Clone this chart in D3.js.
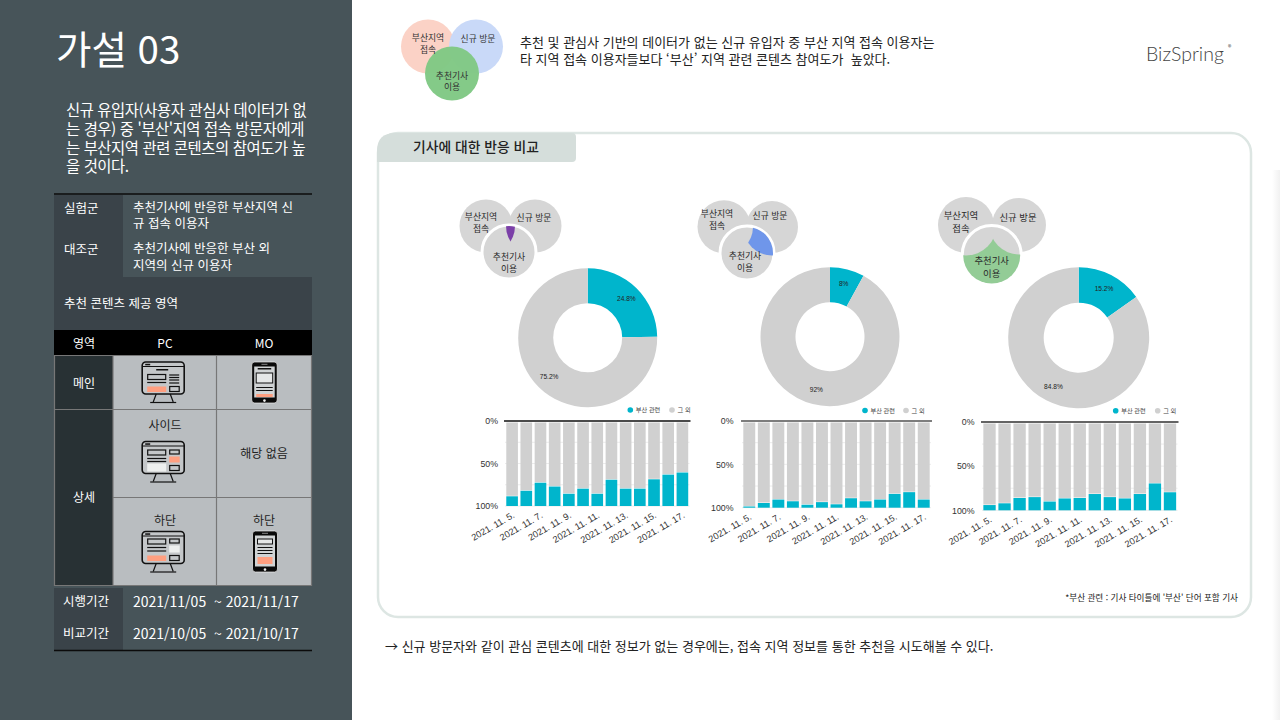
<!DOCTYPE html>
<html lang="ko">
<head>
<meta charset="UTF-8">
<title>가설 03</title>
<script src="https://cdnjs.cloudflare.com/ajax/libs/d3/7.8.5/d3.min.js"></script>
<style>
    html, body { margin: 0; padding: 0; background: #fff; overflow: hidden; }
    svg { display: block; }
    text { font-family: "Noto Sans CJK KR", "Noto Sans", sans-serif; white-space: pre; }
    .axis text { font-family: "Liberation Sans", sans-serif; }
</style>
</head>
<body>
<div id="chart"></div>
<script>
// chart data
const dates = ["2021. 11. 5.", "2021. 11. 6.", "2021. 11. 7.", "2021. 11. 8.", "2021. 11. 9.", "2021. 11. 10.", "2021. 11. 11.",
    "2021. 11. 12.", "2021. 11. 13.", "2021. 11. 14.", "2021. 11. 15.", "2021. 11. 16.", "2021. 11. 17."];
const shownDates = ["2021. 11. 5.", "2021. 11. 7.", "2021. 11. 9.", "2021. 11. 11.", "2021. 11. 13.", "2021. 11. 15.", "2021. 11. 17."];
const yTicks = [0, 50, 100];
const yGrid = [0, 25, 50, 75, 100];
const busanDaily1 = [12, 18.5, 28, 23.5, 15, 21, 15, 31.5, 21, 21, 32, 37.5, 40];
const busanDaily2 = [2, 6, 10, 8, 4, 7, 4.5, 11.5, 8, 10, 16.5, 18.5, 10];
const busanDaily3 = [6.5, 8.5, 14.5, 15.5, 10.5, 14, 14.5, 19, 15.5, 14, 19, 31, 21];
const donutShare1 = [24.8, 75.2];
const donutShare2 = [8, 92];
const donutShare3 = [15.2, 84.8];
const legendNames = ["부산 관련", "그 외"];

// texts
const titleText = "가설 03";
const hypothesisLines = ["신규 유입자(사용자 관심사 데이터가 없", "는 경우) 중 '부산'지역 접속 방문자에게", "는 부산지역 관련 콘텐츠의 참여도가 높", "을 것이다."];
const introLines = ["추천 및 관심사 기반의 데이터가 없는 신규 유입자 중 부산 지역 접속 이용자는", "타 지역 접속 이용자들보다 ‘부산’ 지역 관련 콘텐츠 참여도가  높았다."];
const conclusion = "→ 신규 방문자와 같이 관심 콘텐츠에 대한 정보가 없는 경우에는, 접속 지역 정보를 통한 추천을 시도해볼 수 있다.";
const footnote = "*부산 관련 : 기사 타이틀에 '부산' 단어 포함 기사";

const teal = "#00b5cc", grey = "#d0d0d0", orange = "#ff9f80";

const width = 1280, height = 720;
const svg = d3.select("#chart").append("svg").attr("width", width).attr("height", height);
const defs = svg.append("defs");

function label(parent, x, y, str, size, fill, anchor, weight) {
    return parent.append("text")
        .attr("x", x).attr("y", y)
        .attr("dy", "0.4em")
        .attr("text-anchor", anchor || "start")
        .attr("font-size", size)
        .attr("font-weight", weight || 400)
        .attr("fill", fill)
        .text(str);
}
function box(parent, x, y, w, h, fill) {
    return parent.append("rect").attr("x", x).attr("y", y).attr("width", w).attr("height", h).attr("fill", fill);
}

// left panel
const left = svg.append("g");
box(left, 0, 0, 352, height, "#475459");
label(left, 56, 49, titleText, 38.5, "#fff");
hypothesisLines.forEach((t, i) => label(left, 66, 110 + i * 18.7, t, 15.4, "#fff").attr("letter-spacing", -0.42));

box(left, 54, 195, 69, 82, "#3a4349");
box(left, 54, 277, 258, 53, "#3a4349");
left.append("line").attr("x1", 54).attr("x2", 312).attr("y1", 194).attr("y2", 194).attr("stroke", "#0b0b0b").attr("stroke-width", 1.5);
label(left, 64, 207.5, "실험군", 12.5, "#fff");
label(left, 64, 249, "대조군", 12.5, "#fff");
label(left, 133, 207, "추천기사에 반응한 부산지역 신", 12.5, "#fff");
label(left, 133, 223, "규 접속 이용자", 12.5, "#fff");
label(left, 133, 248, "추천기사에 반응한 부산 외", 12.5, "#fff");
label(left, 133, 265, "지역의 신규 이용자", 12.5, "#fff");
label(left, 64, 303, "추천 콘텐츠 제공 영역", 12.5, "#fff");

box(left, 54, 330, 258, 25, "#000");
label(left, 84, 343, "영역", 12, "#fff", "middle");
label(left, 165, 343, "PC", 12, "#fff", "middle");
label(left, 264, 343, "MO", 12, "#fff", "middle");

box(left, 54, 355, 258, 231, "#b9bdc0");
box(left, 54, 355, 59, 231, "#283134");
[355.5, 409.5, 585.5].forEach(y => left.append("line").attr("x1", 54).attr("x2", 312).attr("y1", y).attr("y2", y).attr("stroke", "#777").attr("stroke-width", 1.2));
left.append("line").attr("x1", 113).attr("x2", 312).attr("y1", 497.5).attr("y2", 497.5).attr("stroke", "#777").attr("stroke-width", 1.2);
[54.5, 113, 216.5, 311.5].forEach(x => left.append("line").attr("x1", x).attr("x2", x).attr("y1", 355).attr("y2", 586).attr("stroke", "#777").attr("stroke-width", 1.2));
label(left, 84, 383, "메인", 12, "#fff", "middle");
label(left, 84, 497, "상세", 12, "#fff", "middle");
label(left, 165, 425, "사이드", 12, "#222", "middle");
label(left, 264, 453, "해당 없음", 12, "#222", "middle");
label(left, 165, 520, "하단", 12, "#222", "middle");
label(left, 264, 520, "하단", 12, "#222", "middle");

box(left, 54, 588, 69, 62, "#3a4349");
label(left, 86, 601, "시행기간", 12.5, "#fff", "middle");
label(left, 86, 633, "비교기간", 12.5, "#fff", "middle");
label(left, 133, 601, "2021/11/05  ~ 2021/11/17", 14, "#fff");
label(left, 133, 633, "2021/10/05  ~ 2021/10/17", 14, "#fff");
left.append("line").attr("x1", 54).attr("x2", 312).attr("y1", 650.5).attr("y2", 650.5).attr("stroke", "#0b0b0b").attr("stroke-width", 1.5);

// little layout icons
function monitor(x, y, kind) {
    const g = left.append("g").attr("transform", `translate(${x},${y})`);
    const ink = "#111";
    const line = (x1, x2, y1, y2) => g.append("line").attr("x1", x1).attr("x2", x2).attr("y1", y1).attr("y2", y2).attr("stroke", ink).attr("stroke-width", 1.2);
    const frame = (x0, y0, w, h) => g.append("rect").attr("x", x0).attr("y", y0).attr("width", w).attr("height", h).attr("fill", "none").attr("stroke", ink).attr("stroke-width", 1.2);
    g.append("rect").attr("width", 42).attr("height", 32).attr("rx", 3.5).attr("fill", "#c4c7c9").attr("stroke", ink).attr("stroke-width", 1.6);
    line(0, 42, 4.5, 4.5);
    box(g, 3, 1.8, 5, 1.5, ink);
    line(14, 11, 32, 40);
    line(28, 31, 32, 40);
    line(8, 34, 40.5, 40.5);
    if (kind === "main") {
        box(g, 14, 7, 12, 1.5, ink);
        frame(5.5, 12.5, 18, 5);
        line(5, 24, 20.5, 20.5);
        box(g, 5, 24.5, 19, 5.5, orange);
        [13, 15.5, 18, 21].forEach(v => line(27, 37, v, v));
        frame(27.5, 24.5, 9.5, 5);
    } else if (kind === "side") {
        frame(5.5, 8.5, 18, 5);
        frame(27.5, 8.5, 9.5, 4);
        box(g, 27, 15, 10.5, 6, orange);
        line(5, 24, 17, 17); line(5, 24, 20, 20);
        box(g, 5, 22, 19, 8, "#edefee");
        frame(27.5, 24, 9.5, 5);
    } else {
        frame(5.5, 7.5, 18, 5);
        frame(27.5, 7.5, 9.5, 4);
        line(5, 24, 16, 16); line(5, 24, 19.5, 19.5);
        box(g, 27, 14, 10.5, 7, "#edefee");
        box(g, 5, 24, 19, 5.5, orange);
        frame(27.5, 24, 9.5, 5);
    }
}
function phone(x, y, w, h, kind) {
    const g = left.append("g").attr("transform", `translate(${x},${y})`);
    g.append("rect").attr("width", w).attr("height", h).attr("rx", 3).attr("fill", "#0a0a0a").attr("stroke", "#eee").attr("stroke-width", 0.7);
    box(g, 2.5, 4.5, w - 5, h - 10, "#d0d3d4");
    box(g, w / 2 - 3, 1.8, 6, 1, "#888");
    g.append("circle").attr("cx", w / 2).attr("cy", h - 2.4).attr("r", 1.3).attr("fill", "#eee");
    const dark = "#111";
    if (kind === "main") {
        box(g, 6, 6, w - 12, 1.5, dark);
        g.append("rect").attr("x", 4.5).attr("y", 11).attr("width", w - 9).attr("height", 10).attr("fill", "#e5e7e7").attr("stroke", dark);
        box(g, 4.5, 25, w - 9, 1, dark); box(g, 4.5, 28, w - 9, 1, dark);
        box(g, 4.5, 32, w - 9, 3, orange);
    } else {
        g.append("rect").attr("x", 5).attr("y", 8).attr("width", w - 10).attr("height", 5).attr("fill", "#e5e7e7").attr("stroke", dark);
        box(g, 5, 16, w - 10, 1, dark); box(g, 5, 19, w - 10, 1, dark); box(g, 5, 22, w - 10, 1, dark);
        box(g, 5, 26, w - 10, 7, orange);
    }
}
monitor(142.2, 362, "main");
monitor(142.2, 441.5, "side");
monitor(142.2, 531.5, "bottom");
phone(251.7, 362, 25.5, 41, "main");
phone(252.5, 531, 25, 41, "bottom");

// header of right side
const topVenn = svg.append("g");
topVenn.append("circle").attr("cx", 428).attr("cy", 46.5).attr("r", 27).attr("fill", "#fbd2c6");
topVenn.append("circle").attr("cx", 476).attr("cy", 46.5).attr("r", 27).attr("fill", "#c9d9f8");
topVenn.append("circle").attr("cx", 452).attr("cy", 73.5).attr("r", 27).attr("fill", "#80c884").attr("fill-opacity", 0.97);
label(topVenn, 428, 37, "부산지역", 8.8, "#333", "middle");
label(topVenn, 428, 49, "접속", 8.8, "#333", "middle");
label(topVenn, 478, 38, "신규 방문", 8.8, "#333", "middle");
label(topVenn, 452, 75, "추천기사", 8.8, "#333", "middle");
label(topVenn, 452, 86, "이용", 8.8, "#333", "middle");
introLines.forEach((t, i) => label(svg, 520, 42 + i * 16.5, t, 13, "#222"));
label(svg, 1146, 53.5, "BizSpring", 19.5, "#444", "start", 300).style("font-family", "Lato, sans-serif");
label(svg, 1228, 47, "®", 7, "#444");

// card
svg.append("rect").attr("x", 378).attr("y", 133).attr("width", 873).attr("height", 484).attr("rx", 20)
    .attr("fill", "#fff").attr("stroke", "#dde6e3").attr("stroke-width", 2.5);
svg.append("path").attr("fill", "#d5dedb")
    .attr("d", "M377,151 Q377,133 395,133 L572,133 Q576,133 576,137 L576,158 Q576,162 572,162 L377,162 Z");
label(svg, 476, 146.5, "기사에 대한 반응 비교", 13.8, "#222", "middle", 500);
label(svg, 1238, 598, footnote, 8.6, "#222", "end");
label(svg, 385, 646, conclusion, 13, "#222");

// right edge shade
const shade = defs.append("linearGradient").attr("id", "edge");
shade.append("stop").attr("offset", 0).attr("stop-color", "#fff");
shade.append("stop").attr("offset", 1).attr("stop-color", "#f1f1f1");
box(svg, 1272, 170, 8, 550, "url(#edge)");

// one panel per comparison
const panels = [
    {
        id: "a", share: donutShare1, daily: busanDaily1, axisColor: "#111",
        donut: [587.7, 337.7, 69.5, 34.5],
        legend: [630.3, 672, 410],
        xRange: [505, 689.5], yRange: [421, 506], tickX: 498,
        venn: { left: [486, 226, 26.5], right: [535, 226, 26.5], bottom: [509, 252, 27] },
        region: { inside: ["left", "right", "bottom"], outside: [], fill: "#7b3fa8" },
        vennText: [[481, 216.5, "부산지역"], [481, 228, "접속"], [534, 217.5, "신규 방문"], [509, 256, "추천기사"], [509, 268, "이용"]], vennSize: 8.8
    },
    {
        id: "b", share: donutShare2, daily: busanDaily2, axisColor: "#555",
        donut: [830, 336.7, 69.5, 34.5],
        legend: [865, 906, 410.5],
        xRange: [742, 931], yRange: [421, 507.7], tickX: 733.5,
        venn: { left: [724, 226.7, 26.5], right: [772, 227, 26], bottom: [747, 253, 27] },
        region: { inside: ["right", "bottom"], outside: ["left"], fill: "#6f96ea" },
        vennText: [[717, 213.5, "부산지역"], [717, 225.5, "접속"], [770, 215, "신규 방문"], [745, 255, "추천기사"], [745, 267, "이용"]], vennSize: 8.8
    },
    {
        id: "c", share: donutShare3, daily: busanDaily3, axisColor: "#333",
        donut: [1078.7, 337.7, 70.5, 35],
        legend: [1115.7, 1157.7, 410.7],
        xRange: [982, 1177.5], yRange: [422, 510.3], tickX: 974.5,
        venn: { left: [966, 225, 28], right: [1019, 225, 27], bottom: [991.7, 255, 29.5] },
        region: { inside: ["bottom"], outside: ["left", "right"], fill: "#93cc96" },
        vennText: [[961, 215, "부산지역"], [961, 228, "접속"], [1018, 217, "신규 방문"], [991.7, 260, "추천기사"], [991.7, 273, "이용"]], vennSize: 9.4
    }
];

function drawVenn(p) {
    const g = svg.append("g");
    ["left", "right", "bottom"].forEach(k => {
        const [cx, cy, r] = p.venn[k];
        g.append("circle").attr("cx", cx).attr("cy", cy).attr("r", r).attr("fill", "#d6d6d6")
            .attr("stroke", k === "bottom" ? "#fff" : "none").attr("stroke-width", 3);
    });
    // region is cut out of the hidden, slightly larger circles
    const hidden = k => p.venn[k][2] + (k === "bottom" ? 0 : 2.5);
    let host = g;
    p.region.inside.forEach(k => {
        const id = `clip-${p.id}-${k}`;
        defs.append("clipPath").attr("id", id).append("circle")
            .attr("cx", p.venn[k][0]).attr("cy", p.venn[k][1]).attr("r", k === "bottom" ? hidden(k) - 1 : hidden(k));
        host = host.append("g").attr("clip-path", `url(#${id})`);
    });
    const mask = defs.append("mask").attr("id", `mask-${p.id}`).attr("maskUnits", "userSpaceOnUse")
        .attr("x", 0).attr("y", 0).attr("width", width).attr("height", height);
    box(mask, 0, 0, width, height, "#fff");
    p.region.outside.forEach(k => mask.append("circle").attr("cx", p.venn[k][0]).attr("cy", p.venn[k][1]).attr("r", hidden(k)).attr("fill", "#000"));
    const [bx, by] = p.venn.bottom;
    box(host, bx - 60, by - 60, 120, 120, p.region.fill).attr("mask", `url(#mask-${p.id})`);
    p.vennText.forEach(([x, y, t]) => label(g, x, y, t, p.vennSize, "#2a2a2a", "middle"));
}

function drawDonut(p) {
    const [cx, cy, outer, inner] = p.donut;
    const g = svg.append("g").attr("transform", `translate(${cx},${cy})`);
    const pie = d3.pie().sort(null)(p.share);
    const arc = d3.arc().innerRadius(inner).outerRadius(outer);
    const labelArc = d3.arc().innerRadius(55).outerRadius(55);
    g.selectAll("path").data(pie).join("path").attr("d", arc).attr("fill", (d, i) => i === 0 ? teal : grey);
    g.selectAll("text").data(pie).join("text")
        .attr("transform", d => `translate(${labelArc.centroid(d)})`)
        .attr("dy", "0.35em").attr("text-anchor", "middle")
        .attr("font-size", 6.6).attr("fill", "#222")
        .style("font-family", "Liberation Sans, sans-serif")
        .text(d => d.data + "%");

    const [x1, x2, y] = p.legend;
    svg.append("circle").attr("cx", x1).attr("cy", y).attr("r", 2.8).attr("fill", teal);
    svg.append("circle").attr("cx", x2).attr("cy", y).attr("r", 2.8).attr("fill", grey);
    label(svg, x1 + 5.5, y, legendNames[0], 6.2, "#444");
    label(svg, x2 + 5.5, y, legendNames[1], 6.2, "#444");
}

function drawBars(p) {
    const x = d3.scaleBand().domain(dates).range(p.xRange).paddingInner(0.18).paddingOuter(0.09);
    const y = d3.scaleLinear().domain([0, 100]).range(p.yRange);
    const g = svg.append("g");

    g.selectAll(".grid").data(yGrid).join("line").attr("class", "grid")
        .attr("x1", p.xRange[0]).attr("x2", p.xRange[1])
        .attr("y1", d => y(d)).attr("y2", d => y(d))
        .attr("stroke", "#ececec");

    // stacked from the top: the other share first, the busan share at the bottom
    const rows = dates.map((d, i) => ({ date: d, other: 100 - p.daily[i], busan: p.daily[i] }));
    const stack = d3.stack().keys(["other", "busan"])(rows);
    g.selectAll(".layer").data(stack).join("g").attr("class", "layer")
        .attr("fill", d => d.key === "busan" ? teal : grey)
        .selectAll("rect").data(d => d.map(v => ({ key: d.key, v }))).join("rect")
        .attr("x", d => x(d.v.data.date))
        .attr("width", x.bandwidth())
        .attr("y", d => y(d.v[0]) + (d.key === "other" ? 1.5 : 0.5))
        .attr("height", d => Math.max(0, y(d.v[1]) - y(d.v[0]) - (d.key === "other" ? 1.5 : 0.5)));

    g.append("line").attr("x1", p.xRange[0] - 1).attr("x2", p.xRange[1] + 1)
        .attr("y1", y(0)).attr("y2", y(0))
        .attr("stroke", p.axisColor).attr("stroke-width", 1.3);

    const yAxis = g.append("g").attr("class", "axis")
        .attr("transform", `translate(${p.tickX},0)`)
        .call(d3.axisLeft(y).tickValues(yTicks).tickFormat(d => d + "%").tickSize(0).tickPadding(0));
    yAxis.select(".domain").remove();
    yAxis.selectAll("text").attr("font-size", 8.8).attr("fill", "#333");

    const xAxis = g.append("g").attr("class", "axis")
        .attr("transform", `translate(0,${p.yRange[1]})`)
        .call(d3.axisBottom(x).tickValues(shownDates).tickSize(0).tickPadding(0));
    xAxis.select(".domain").remove();
    xAxis.selectAll("text")
        .attr("font-size", 9.2).attr("fill", "#333")
        .attr("text-anchor", "end")
        .attr("dy", 0).attr("y", 0)
        .attr("transform", "translate(3,11) rotate(-30)");
}

panels.forEach(p => {
    drawVenn(p);
    drawDonut(p);
    drawBars(p);
});
</script>
</body>
</html>
